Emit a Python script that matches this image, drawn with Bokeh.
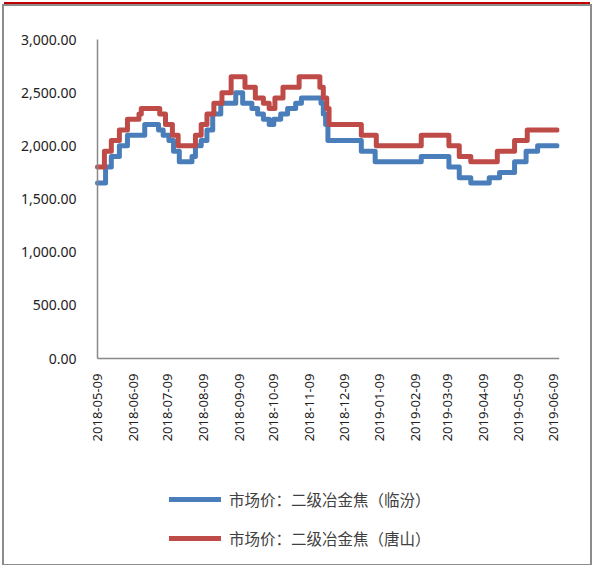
import pandas as pd
from math import pi
from bokeh.plotting import figure
from bokeh.models import (FixedTicker, DatetimeTickFormatter, NumeralTickFormatter,
                          Range1d, Legend, LegendItem, DatetimeAxis, LinearAxis)
from bokeh.embed import file_html
from bokeh.resources import INLINE

# ---- data (change dates and price levels, step series) ----
linfen_dates = ["2018-05-09", "2018-05-16", "2018-05-21", "2018-05-28", "2018-06-04",
                "2018-06-19", "2018-07-01", "2018-07-05", "2018-07-10", "2018-07-14",
                "2018-07-19", "2018-07-30", "2018-08-02", "2018-08-07", "2018-08-12",
                "2018-08-17", "2018-08-24", "2018-09-06", "2018-09-12", "2018-09-20",
                "2018-09-25", "2018-09-30", "2018-10-05", "2018-10-09", "2018-10-15",
                "2018-10-21", "2018-10-28", "2018-11-02", "2018-11-19", "2018-11-21",
                "2018-11-23", "2018-11-25", "2018-12-24", "2019-01-05", "2019-02-14",
                "2019-03-10", "2019-03-19", "2019-03-29", "2019-04-14", "2019-04-23",
                "2019-05-06", "2019-05-16", "2019-05-26", "2019-06-12"]
linfen_vals = [1650, 1800, 1900, 2000, 2100,
               2200, 2150, 2100, 2050, 1950,
               1850, 1900, 2000, 2050, 2150,
               2300, 2400, 2500, 2400, 2350,
               2300, 2250, 2200, 2250, 2300,
               2350, 2400, 2450, 2400, 2300,
               2200, 2050, 1950, 1850, 1900,
               1800, 1700, 1650, 1700, 1750,
               1850, 1950, 2000, 2000]

tangshan_dates = ["2018-05-09", "2018-05-15", "2018-05-21", "2018-05-28", "2018-06-04",
                  "2018-06-14", "2018-06-16", "2018-07-02", "2018-07-07", "2018-07-13",
                  "2018-07-18", "2018-08-02", "2018-08-07", "2018-08-12", "2018-08-18",
                  "2018-08-25", "2018-09-02", "2018-09-14", "2018-09-23", "2018-09-30",
                  "2018-10-05", "2018-10-10", "2018-10-17", "2018-10-31", "2018-11-18",
                  "2018-11-21", "2018-11-24", "2018-11-26", "2018-12-24", "2019-01-06",
                  "2019-02-14", "2019-03-10", "2019-03-19", "2019-03-29", "2019-04-21",
                  "2019-05-06", "2019-05-17", "2019-06-12"]
tangshan_vals = [1800, 1950, 2050, 2150, 2250,
                 2300, 2350, 2300, 2200, 2100,
                 2000, 2100, 2200, 2300, 2400,
                 2500, 2650, 2550, 2450, 2400,
                 2350, 2450, 2550, 2650, 2550,
                 2450, 2350, 2200, 2100, 2000,
                 2100, 2000, 1900, 1850, 1950,
                 2050, 2150, 2150]

tick_dates = ["2018-05-09", "2018-06-09", "2018-07-09", "2018-08-09", "2018-09-09",
              "2018-10-09", "2018-11-09", "2018-12-09", "2019-01-09", "2019-02-09",
              "2019-03-09", "2019-04-09", "2019-05-09", "2019-06-09"]
y_ticks = [0, 500, 1000, 1500, 2000, 2500, 3000]

series_names = ["市场价：二级冶金焦（临汾）", "市场价：二级冶金焦（唐山）"]
series_colors = ["#4A7EBB", "#BE4B48"]


def to_ms(s):
    return [int((pd.Timestamp(d) - pd.Timestamp("1970-01-01")) / pd.Timedelta("1ms")) for d in s]


x_start = pd.Timestamp("2018-05-09")
x_end = pd.Timestamp("2019-06-14")

# The frame covers nearly the whole canvas so that axis labels and the legend
# (drawn inside it) are not clipped. Axes are pinned at x_start and y=0.
PLOT_W = 462.0          # px from y axis to right end of x axis
LEFT_EXTRA = 88.0       # px of frame left of the y axis
span_days = (x_end - x_start) / pd.Timedelta("1D")
x_lo = x_start - pd.Timedelta(days=span_days * LEFT_EXTRA / PLOT_W)

Y_MAX = 3000
PX_0_TO_MAX = 319.0     # px between 0 and 3000
TOP_EXTRA = 28.0        # px of frame above 3000
BOTTOM_EXTRA = 206.0    # px of frame below 0
y_hi = Y_MAX + Y_MAX * TOP_EXTRA / PX_0_TO_MAX
y_lo = -Y_MAX * BOTTOM_EXTRA / PX_0_TO_MAX

p = figure(width=586, height=558, x_axis_location=None, y_axis_location=None,
           output_backend="svg", toolbar_location=None,
           x_range=Range1d(x_lo, x_end), y_range=Range1d(y_lo, y_hi),
           min_border_left=5, min_border_right=31, min_border_top=5,
           min_border_bottom=0, margin=(6, 0, 0, 4))
p.styles = {"outline": "2px solid #8c8c8c", "outline-offset": "0px",
            "box-shadow": "0 -4px 0 0 #c00000"}
p.outline_line_color = None
p.background_fill_color = "white"
p.border_fill_color = "white"
p.xgrid.visible = False
p.ygrid.visible = False

r1 = p.step(pd.to_datetime(linfen_dates), linfen_vals, mode="after",
            line_color=series_colors[0], line_width=5, line_join="round", line_cap="round")
r2 = p.step(pd.to_datetime(tangshan_dates), tangshan_vals, mode="after",
            line_color=series_colors[1], line_width=5, line_join="round", line_cap="round")

# x axis fixed at value 0
fmt = "%Y-%m-%d"
xa = DatetimeAxis(fixed_location=0, bounds=(x_start, x_end))
xa.ticker = FixedTicker(ticks=to_ms(tick_dates))
xa.formatter = DatetimeTickFormatter(days=fmt, months=fmt, years=fmt, hours=fmt)
xa.major_label_orientation = pi / 2
xa.major_tick_line_color = None
xa.minor_tick_line_color = None
xa.major_label_standoff = 9
xa.major_label_text_font = "Noto Sans"
xa.major_label_text_font_size = "13px"
xa.major_label_text_color = "#222222"
xa.axis_line_color = "#898989"
xa.axis_line_width = 1.5
p.add_layout(xa, "below")

# y axis fixed at the first date
ya = LinearAxis(fixed_location=to_ms([x_start.strftime("%Y-%m-%d")])[0], bounds=(0, Y_MAX))
ya.ticker = FixedTicker(ticks=y_ticks)
ya.formatter = NumeralTickFormatter(format="0,0.00")
ya.major_tick_line_color = None
ya.minor_tick_line_color = None
ya.major_label_standoff = 15
ya.major_label_text_font = "Noto Sans"
ya.major_label_text_font_size = "14px"
ya.major_label_text_color = "#222222"
ya.axis_line_color = "#898989"
ya.axis_line_width = 1.5
p.add_layout(ya, "left")

legend = Legend(items=[LegendItem(label=series_names[0], renderers=[r1]),
                       LegendItem(label=series_names[1], renderers=[r2])],
                location=(160, 15), orientation="vertical")
legend.border_line_color = None
legend.background_fill_alpha = 0
legend.padding = 0
legend.margin = 0
legend.spacing = 17
legend.glyph_width = 52
legend.glyph_height = 20
legend.label_height = 20
legend.label_standoff = 8
legend.label_text_font = "Noto Sans CJK SC"
legend.label_text_font_size = "15.5px"
legend.label_text_color = "#404040"
p.add_layout(legend, "center")

open("out.html", "w").write(file_html(p, INLINE))
